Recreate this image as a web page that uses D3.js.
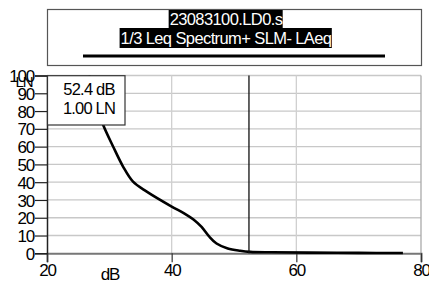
<!DOCTYPE html>
<html>
<head>
<meta charset="utf-8">
<script src="https://cdn.jsdelivr.net/npm/d3@7"></script>
<style>
  body { margin: 0; background: #fff; }
  svg { display: block; font-family: "Liberation Sans", Arial, sans-serif; }
  .tick text { font-size: 17px; letter-spacing: -1.2px; fill: #000; }
</style>
</head>
<body>
<div id="chart"></div>
<script>
// curve data (dB level vs LN percentage)
const levels = [26.8, 27.6, 28.3, 29.0, 30.6, 32.2, 33.8, 36.0, 40.0, 42.0, 43.5, 44.8, 46.0, 47.2, 49.0, 51.0, 52.6, 56, 62, 70, 77.1];
const lnValues = [100, 90, 80, 72.3, 60.1, 48.8, 40.3, 34.7, 26.3, 22.5, 19.0, 14.8, 9.5, 5.5, 2.7, 1.4, 0.8, 0.55, 0.4, 0.25, 0.15];
const xTicks = [20, 40, 60, 80];
const yTicks = [0, 10, 20, 30, 40, 50, 60, 70, 80, 90, 100];
const titleLines = ["23083100.LD0.s", "1/3 Leq Spectrum+ SLM- LAeq"];
const cursorDb = 52.4;
const cursorLabel = ["52.4 dB", "1.00 LN"];

const W = 429, H = 284;
const margin = { top: 75.5, right: 8, bottom: 31, left: 47 };

const svg = d3.select("#chart").append("svg")
  .attr("width", W)
  .attr("height", H);

const x = d3.scaleLinear().domain([20, 80]).range([margin.left, 421]);
const y = d3.scaleLinear().domain([0, 100]).range([253.3, margin.top]);

// title box
svg.append("rect")
  .attr("x", 47.5).attr("y", 9.5)
  .attr("width", 374).attr("height", 56)
  .attr("fill", "#fff").attr("stroke", "#555").attr("stroke-width", 1.2);

titleLines.forEach((t, i) => {
  const txt = svg.append("text")
    .attr("x", 226).attr("y", 25 + i * 19)
    .attr("text-anchor", "middle")
    .attr("font-size", 16.5)
    .attr("letter-spacing", -0.6)
    .attr("fill", "#fff")
    .text(t);
  const bb = txt.node().getBBox();
  svg.insert("rect", () => txt.node())
    .attr("x", bb.x - 1).attr("y", i === 0 ? 10 : 28)
    .attr("width", bb.width + 1).attr("height", i === 0 ? 18 : 20)
    .attr("fill", "#000");
});
svg.append("line")
  .attr("x1", 83).attr("x2", 385)
  .attr("y1", 56).attr("y2", 56)
  .attr("stroke", "#000").attr("stroke-width", 3);

// grid
svg.append("g")
  .selectAll("line")
  .data(yTicks.filter(d => d > 0))
  .join("line")
  .attr("x1", margin.left).attr("x2", 421)
  .attr("y1", d => y(d)).attr("y2", d => y(d))
  .attr("stroke", "#c8c8c8").attr("stroke-width", 1.3);

svg.append("g")
  .selectAll("line")
  .data(xTicks.filter(d => d > 20))
  .join("line")
  .attr("x1", d => x(d)).attr("x2", d => x(d))
  .attr("y1", y(100)).attr("y2", y(0))
  .attr("stroke", d => d === 80 ? "#aaa" : "#d0d0d0").attr("stroke-width", 1.3);

// x axis
const xAxis = svg.append("g")
  .attr("transform", `translate(0,${y(0)})`)
  .call(d3.axisBottom(x).tickValues(xTicks).tickSize(9).tickPadding(2));
xAxis.select(".domain").attr("stroke", "#777").attr("stroke-width", 2);
xAxis.selectAll(".tick line").attr("stroke", "#333").attr("stroke-width", 1.2);

// y axis
const yAxis = svg.append("g")
  .attr("transform", `translate(${margin.left},0)`)
  .call(d3.axisLeft(y).tickValues(yTicks).tickSize(12).tickPadding(1));
yAxis.select(".domain").attr("stroke", "#222").attr("stroke-width", 1.5);
yAxis.selectAll(".tick line").attr("stroke", "#222").attr("stroke-width", 1.2);
yAxis.selectAll(".tick text").attr("dy", "0.36em");

// axis titles
svg.append("text")
  .attr("x", 110).attr("y", 280)
  .attr("text-anchor", "middle")
  .attr("font-size", 17).attr("letter-spacing", -1.2)
  .text("dB");
svg.append("text")
  .attr("x", 24).attr("y", 87)
  .attr("text-anchor", "middle")
  .attr("font-size", 15).attr("letter-spacing", -1)
  .text("LN");

// curve
const pts = levels.map((d, i) => [d, lnValues[i]]);
const line = d3.line()
  .x(d => x(d[0]))
  .y(d => y(d[1]))
  .curve(d3.curveCatmullRom.alpha(0.5));
svg.append("path")
  .datum(pts)
  .attr("d", line)
  .attr("fill", "none")
  .attr("stroke", "#000")
  .attr("stroke-width", 2.6);

// cursor
svg.append("line")
  .attr("x1", x(cursorDb)).attr("x2", x(cursorDb))
  .attr("y1", y(100)).attr("y2", y(0))
  .attr("stroke", "#111").attr("stroke-width", 1.3);

// cursor readout box
svg.append("rect")
  .attr("x", 47.5).attr("y", 75.7)
  .attr("width", 77.5).attr("height", 49.3)
  .attr("fill", "#fff").attr("stroke", "#333").attr("stroke-width", 1.2);
cursorLabel.forEach((t, i) => {
  svg.append("text")
    .attr("x", 89).attr("y", 95 + i * 19)
    .attr("text-anchor", "middle")
    .attr("font-size", 16.5).attr("letter-spacing", -0.8)
    .text(t);
});
</script>
</body>
</html>
